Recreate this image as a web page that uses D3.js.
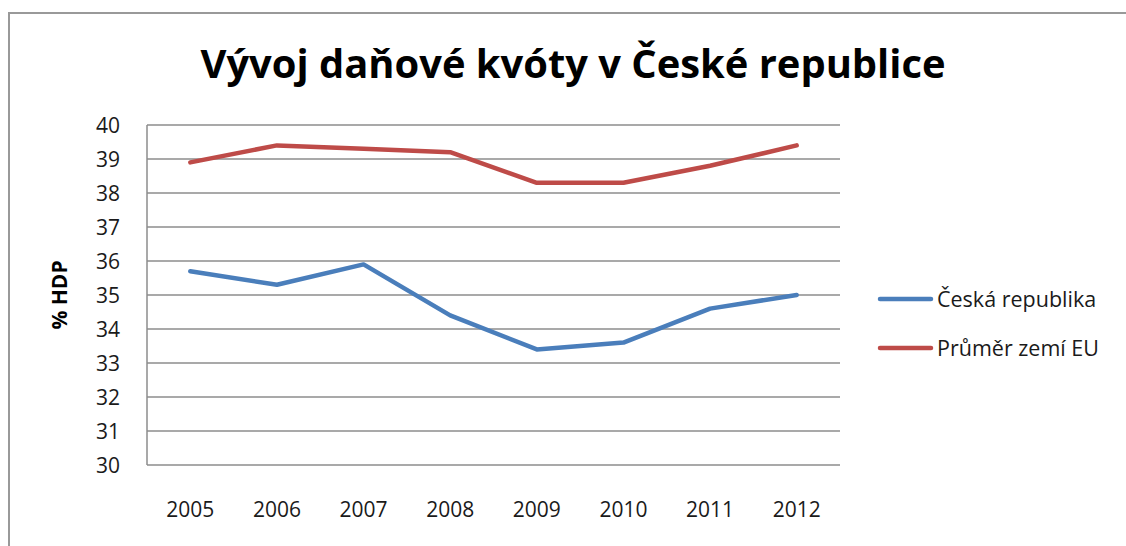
<!DOCTYPE html>
<html>
<head>
<meta charset="utf-8">
<script src="https://cdn.jsdelivr.net/npm/d3@7"></script>
<style>
  body { margin: 0; background: #fff; }
  svg { display: block; font-family: "Open Sans", "Noto Sans", sans-serif; }
</style>
</head>
<body>
<svg id="chart" width="1126" height="546"></svg>
<script>
  const years = ['2005', '2006', '2007', '2008', '2009', '2010', '2011', '2012'];
  const ceskaRepublika = [35.7, 35.3, 35.9, 34.4, 33.4, 33.6, 34.6, 35.0];
  const prumerEU = [38.9, 39.4, 39.3, 39.2, 38.3, 38.3, 38.8, 39.4];
  const yTicks = [30, 31, 32, 33, 34, 35, 36, 37, 38, 39, 40];
  const seriesNames = ['Česká republika', 'Průměr zemí EU'];

  const svg = d3.select('#chart');
  const plot = { left: 147, right: 840, top: 125, bottom: 465 };

  // outer frame
  svg.append('path')
     .attr('d', 'M9,546 V13 H1126')
     .attr('fill', 'none')
     .attr('stroke', '#999')
     .attr('stroke-width', 2);

  const title = svg.append('text')
     .attr('x', 573)
     .attr('y', 78)
     .attr('text-anchor', 'middle')
     .attr('font-size', 40)
     .attr('font-weight', 'bold')
     .attr('fill', '#000')
     .text('Vývoj daňové kvóty v České republice');
  // keep to roughly the width of the original title
  title.attr('textLength', 745).attr('lengthAdjust', 'spacingAndGlyphs');

  const x = d3.scaleBand().domain(years).range([plot.left, plot.right]);
  const y = d3.scaleLinear().domain([30, 40]).range([plot.bottom, plot.top]);

  // gridlines
  svg.append('g')
     .selectAll('line')
     .data(yTicks)
     .enter().append('line')
     .attr('x1', plot.left)
     .attr('x2', plot.right)
     .attr('y1', d => y(d))
     .attr('y2', d => y(d))
     .attr('stroke', '#8c8c8c')
     .attr('stroke-width', 1.5);

  // y axis line
  svg.append('line')
     .attr('x1', plot.left).attr('x2', plot.left)
     .attr('y1', plot.top).attr('y2', plot.bottom)
     .attr('stroke', '#8c8c8c')
     .attr('stroke-width', 1.5);

  // y tick labels
  svg.append('g')
     .selectAll('text')
     .data(yTicks)
     .enter().append('text')
     .attr('x', 120)
     .attr('y', d => y(d))
     .attr('dy', '0.36em')
     .attr('text-anchor', 'end')
     .attr('font-size', 21)
     .attr('fill', '#1a1a1a')
     .text(d => d);

  // x labels
  svg.append('g')
     .selectAll('text')
     .data(years)
     .enter().append('text')
     .attr('x', d => x(d) + x.bandwidth() / 2)
     .attr('y', 517)
     .attr('text-anchor', 'middle')
     .attr('font-size', 21)
     .attr('fill', '#1a1a1a')
     .text(d => d);

  // y axis title
  svg.append('text')
     .attr('transform', 'translate(67,295) rotate(-90)')
     .attr('text-anchor', 'middle')
     .attr('font-size', 21)
     .attr('font-weight', 'bold')
     .attr('fill', '#000')
     .text('% HDP');

  const line = d3.line()
                 .x((d, i) => x(years[i]) + x.bandwidth() / 2)
                 .y(d => y(d));

  const series = [
    { name: seriesNames[0], values: ceskaRepublika, color: '#4a7ebb' },
    { name: seriesNames[1], values: prumerEU, color: '#be4b48' }
  ];

  svg.append('g')
     .selectAll('path')
     .data(series)
     .enter().append('path')
     .attr('d', d => line(d.values))
     .attr('fill', 'none')
     .attr('stroke', d => d.color)
     .attr('stroke-width', 4.5)
     .attr('stroke-linejoin', 'round')
     .attr('stroke-linecap', 'round');

  // legend
  const legend = svg.append('g')
     .selectAll('g')
     .data(series)
     .enter().append('g')
     .attr('transform', (d, i) => `translate(880,${299 + i * 49})`);

  legend.append('line')
     .attr('x1', 0).attr('x2', 51)
     .attr('stroke', d => d.color)
     .attr('stroke-width', 4.5)
     .attr('stroke-linecap', 'round');

  legend.append('text')
     .attr('x', 57)
     .attr('dy', '0.36em')
     .attr('font-size', 21.5)
     .attr('fill', '#1a1a1a')
     .text(d => d.name);
</script>
</body>
</html>
